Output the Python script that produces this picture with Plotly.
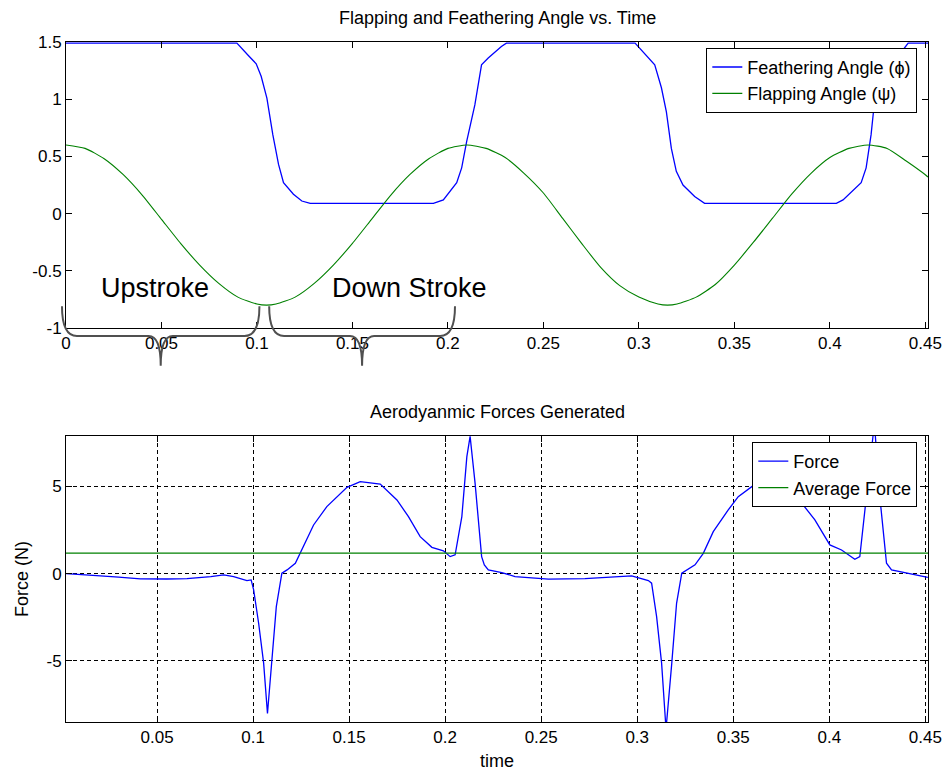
import plotly.graph_objects as go

# ---------------- data ----------------
# Feathering angle (phi), top panel
feather_t = [0.0, 0.0895, 0.0956, 0.0996, 0.1022, 0.1052, 0.1083, 0.1113, 0.1139, 0.1191, 0.1235, 0.1279,
             0.1924, 0.1976, 0.2046, 0.2072, 0.2098, 0.2141, 0.2176, 0.2211, 0.2280, 0.2306,
             0.2980, 0.3048, 0.3083, 0.3118, 0.3144, 0.3170, 0.3196, 0.3231, 0.3292, 0.3344,
             0.4034, 0.4069, 0.4164, 0.4190, 0.4216, 0.4234, 0.4251, 0.4383, 0.4410, 0.4514]
feather_v = [1.49, 1.49, 1.38, 1.31, 1.20, 1.01, 0.69, 0.43, 0.27, 0.17, 0.11, 0.09,
             0.09, 0.12, 0.27, 0.40, 0.63, 0.95, 1.30, 1.36, 1.46, 1.49,
             1.49, 1.36, 1.30, 1.10, 0.89, 0.57, 0.37, 0.25, 0.15, 0.09,
             0.09, 0.12, 0.27, 0.40, 0.69, 0.98, 1.23, 1.43, 1.49, 1.49]

# Flapping angle (psi), top panel
flap_t = [0.00, 0.01, 0.02, 0.03, 0.04, 0.05, 0.06, 0.07, 0.08, 0.09, 0.10, 0.105, 0.11, 0.12, 0.13,
          0.14, 0.15, 0.16, 0.17, 0.18, 0.19, 0.20, 0.21, 0.22, 0.23, 0.24, 0.25, 0.26, 0.27,
          0.28, 0.29, 0.30, 0.31, 0.315, 0.32, 0.33, 0.34, 0.35, 0.36, 0.37, 0.38, 0.39, 0.40,
          0.41, 0.42, 0.43, 0.44, 0.45, 0.4514]
flap_v = [0.60, 0.57, 0.48, 0.34, 0.16, -0.05, -0.26, -0.45, -0.61, -0.73, -0.79, -0.80, -0.79, -0.73, -0.61,
          -0.45, -0.26, -0.05, 0.16, 0.34, 0.48, 0.57, 0.60, 0.57, 0.49, 0.35, 0.18, -0.04, -0.26,
          -0.47, -0.63, -0.73, -0.79, -0.80, -0.79, -0.73, -0.62, -0.45, -0.25, -0.04, 0.17, 0.35, 0.49,
          0.57, 0.60, 0.57, 0.46, 0.34, 0.32]

# Aerodynamic force, bottom panel
force_t = [0.0027, 0.0100, 0.0205, 0.0300, 0.0413, 0.0550, 0.0656, 0.0780, 0.0847, 0.0899, 0.0968, 0.0990,
           0.1003, 0.1029, 0.1055, 0.1075, 0.1098, 0.1121, 0.1150, 0.1177, 0.1220, 0.1254, 0.1315, 0.1384,
           0.1489, 0.1558, 0.1662, 0.1749, 0.1809, 0.1870, 0.1931, 0.1991, 0.2026, 0.2052, 0.2087, 0.2113,
           0.2130, 0.2156, 0.2173, 0.2190, 0.2204, 0.2225, 0.2295, 0.2364, 0.2538, 0.2728, 0.2971, 0.3058,
           0.3075, 0.3101, 0.3127, 0.3150, 0.3180, 0.3205, 0.3232, 0.3301, 0.3344, 0.3396, 0.3474, 0.3526,
           0.3600, 0.3665, 0.3760, 0.3830, 0.3925, 0.4003, 0.4064, 0.4133, 0.4159, 0.4194, 0.4235, 0.4263,
           0.4298, 0.4324, 0.4410, 0.4497, 0.4513]
force_v = [0.00, -0.04, -0.13, -0.20, -0.30, -0.31, -0.29, -0.18, -0.08, -0.17, -0.40, -0.36,
           -0.93, -2.84, -5.12, -8.00, -4.74, -1.89, 0.02, 0.21, 0.59, 1.35, 2.78, 3.83,
           4.93, 5.26, 5.12, 4.21, 3.26, 2.11, 1.50, 1.30, 0.97, 1.07, 3.26, 6.69,
           7.85, 5.16, 2.90, 0.97, 0.50, 0.21, 0.06, -0.17, -0.32, -0.29, -0.13, -0.40,
           -0.55, -2.46, -5.12, -8.90, -5.12, -1.70, 0.02, 0.50, 1.16, 2.40, 3.64, 4.40,
           5.00, 5.25, 5.05, 4.40, 3.07, 1.64, 1.35, 0.82, 0.97, 4.40, 8.60, 4.40,
           0.59, 0.21, 0.02, -0.21, -0.22]
average_force = 1.17

# Ticks
top_x_ticks = [0, 0.05, 0.1, 0.15, 0.2, 0.25, 0.3, 0.35, 0.4, 0.45]
top_x_labels = ["0", "0.05", "0.1", "0.15", "0.2", "0.25", "0.3", "0.35", "0.4", "0.45"]
top_y_ticks = [-1, -0.5, 0, 0.5, 1, 1.5]
top_y_labels = ["-1", "-0.5", "0", "0.5", "1", "1.5"]
bot_x_ticks = [0.05, 0.1, 0.15, 0.2, 0.25, 0.3, 0.35, 0.4, 0.45]
bot_x_labels = ["0.05", "0.1", "0.15", "0.2", "0.25", "0.3", "0.35", "0.4", "0.45"]
bot_y_ticks = [-5, 0, 5]
bot_y_labels = ["-5", "0", "5"]

# Stroke annotations: (label, brace start time, brace end time)
stroke_labels = ["Upstroke", "Down Stroke"]
stroke_spans = [(-0.0021, 0.1013), (0.1064, 0.2037)]

# ---------------- figure ----------------
FONT = "Liberation Sans, Arial, sans-serif"
BLUE = "#0000ff"
GREEN = "#008000"

top_xr = [0, 0.4514]
top_yr = [-1, 1.5]
bot_xr = [0.0026, 0.4514]
bot_yr = [-8.49, 7.87]

fig = go.Figure()
fig.add_trace(go.Scatter(x=feather_t, y=feather_v, mode="lines", name="Feathering Angle (ϕ)",
                         line=dict(color=BLUE, width=1.3), xaxis="x", yaxis="y", legend="legend"))
fig.add_trace(go.Scatter(x=flap_t, y=flap_v, mode="lines", name="Flapping Angle (ψ)",
                         line=dict(color=GREEN, width=1.1, shape="spline", smoothing=0.6),
                         xaxis="x", yaxis="y", legend="legend"))
fig.add_trace(go.Scatter(x=force_t, y=force_v, mode="lines", name="Force",
                         line=dict(color=BLUE, width=1.3), xaxis="x2", yaxis="y2", legend="legend2"))
fig.add_trace(go.Scatter(x=[bot_xr[0], bot_xr[1]], y=[average_force, average_force], mode="lines",
                         name="Average Force", line=dict(color=GREEN, width=1.3),
                         xaxis="x2", yaxis="y2", legend="legend2"))

axis_common = dict(showline=True, linecolor="black", linewidth=1, mirror="ticks", ticks="inside",
                   ticklen=6, tickcolor="black", zeroline=False, automargin=False,
                   tickfont=dict(family=FONT, size=17, color="black"))

# page body has an 8px margin: figure is offset by 8px inside the 950x771 window
fig.update_layout(
    width=934, height=763,
    margin=dict(l=58, r=14, t=34, b=49),
    paper_bgcolor="white", plot_bgcolor="white",
    font=dict(family=FONT, size=18, color="black"),
    xaxis=dict(domain=[0, 1], range=top_xr, tickvals=top_x_ticks, ticktext=top_x_labels,
               showgrid=False, anchor="y", **axis_common),
    yaxis=dict(domain=[0.5794, 1], range=top_yr, tickvals=top_y_ticks, ticktext=top_y_labels,
               showgrid=False, anchor="x", **axis_common),
    xaxis2=dict(domain=[0, 1], range=bot_xr, tickvals=bot_x_ticks, ticktext=bot_x_labels,
                showgrid=True, gridcolor="black", griddash="4px,3px", gridwidth=1, anchor="y2",
                title=dict(text="time", font=dict(family=FONT, size=18), standoff=15), **axis_common),
    yaxis2=dict(domain=[0, 0.4206], range=bot_yr, tickvals=bot_y_ticks, ticktext=bot_y_labels,
                showgrid=True, gridcolor="black", griddash="4px,3px", gridwidth=1, anchor="x2",
                title=dict(text="Force (N)", font=dict(family=FONT, size=18), standoff=13), **axis_common),
    legend=dict(x=0.9876, y=0.9915, xanchor="right", yanchor="top", bgcolor="white",
                bordercolor="black", borderwidth=1, font=dict(family=FONT, size=18),
                tracegroupgap=0),
    legend2=dict(x=0.9876, y=0.4118, xanchor="right", yanchor="top", bgcolor="white",
                 bordercolor="black", borderwidth=1, font=dict(family=FONT, size=18),
                 tracegroupgap=0),
    showlegend=True,
)

# Panel titles
fig.add_annotation(text="Flapping and Feathering Angle vs. Time", xref="paper", yref="paper",
                   x=0.5, y=1.0346, showarrow=False, yanchor="middle",
                   font=dict(family=FONT, size=18))
fig.add_annotation(text="Aerodyanmic Forces Generated", xref="paper", yref="paper",
                   x=0.5, y=0.4559, showarrow=False, yanchor="middle",
                   font=dict(family=FONT, size=18))


# Braces + stroke labels (positioned via the top axes' scale)
def xd(t):
    return (t - top_xr[0]) / (top_xr[1] - top_xr[0])


def yd(v):
    return (v - top_yr[0]) / (top_yr[1] - top_yr[0])


BR_TOP, BR_BAR, BR_TIP = -0.81, -1.07, -1.33
R_END, R_TIP = 0.0078, 0.0063
for label, (t0, t1) in zip(stroke_labels, stroke_spans):
    mid = (t0 + t1) / 2
    p = (f"M {xd(t0)},{yd(BR_TOP)} Q {xd(t0)},{yd(BR_BAR)} {xd(t0 + R_END)},{yd(BR_BAR)} "
         f"L {xd(mid - R_TIP)},{yd(BR_BAR)} Q {xd(mid)},{yd(BR_BAR)} {xd(mid)},{yd(BR_TIP)} "
         f"Q {xd(mid)},{yd(BR_BAR)} {xd(mid + R_TIP)},{yd(BR_BAR)} "
         f"L {xd(t1 - R_END)},{yd(BR_BAR)} Q {xd(t1)},{yd(BR_BAR)} {xd(t1)},{yd(BR_TOP)}")
    fig.add_shape(type="path", path=p, xref="x domain", yref="y domain",
                  line=dict(color="#505050", width=2), layer="above")
    fig.add_annotation(text=label, x=mid - 0.003 if label == "Upstroke" else mid + 0.025,
                       y=-0.654, xref="x", yref="y", showarrow=False,
                       font=dict(family=FONT, size=27, color="black"))

fig.write_html("out.html")
